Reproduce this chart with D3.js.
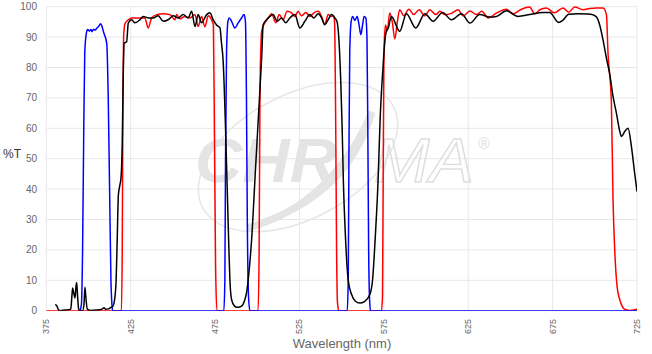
<!DOCTYPE html>
<html>
<head>
<meta charset="utf-8">
<script src="https://cdn.jsdelivr.net/npm/d3@7"></script>
<style>
body { margin: 0; background: #fff; }
svg { display: block; font-family: "Liberation Sans", Arial, sans-serif; }
</style>
</head>
<body>
<script>
// tick values
var xTicks = [375, 425, 475, 525, 575, 625, 675, 725];
var yTicks = [0, 10, 20, 30, 40, 50, 60, 70, 80, 90, 100];

// blue (excitation)
var blueNm = [395, 395.8, 396.5, 397.2, 397.8, 398.8, 399.5, 400.5, 401.5, 402, 403, 404, 405, 406, 407.2, 408, 409, 410.8, 411.7, 412.5, 413.3, 413.9, 414.3,
  450, 480.2, 480.8, 481.2, 481.8, 482.6, 483.4, 484.8, 486.7, 488.7, 490.7, 492.2, 493, 493.6, 494.1, 494.8, 495.6,
  530, 553.3, 553.9, 554.3, 554.8, 555.6, 556.5, 557.8, 559.2, 560.3, 561.4, 562.4, 563.3, 564.3, 565, 565.5, 566, 566.6, 567.1, 650, 725];
var blueT = [0, 2, 20, 60, 85, 91.5, 92.5, 92, 92.5, 91.8, 92.6, 92.3, 93, 93.5, 94.4, 93.5, 91.5, 88, 70, 40, 10, 2, 0,
  0, 0, 10, 50, 85, 95, 96.3, 95.2, 93, 94.7, 96.3, 97.4, 95, 70, 30, 5, 0,
  0, 0, 10, 50, 85, 95, 96.8, 95.5, 96.8, 94, 90.8, 94, 96.8, 96.3, 90, 60, 20, 3, 0, 0, 0];

// red (dichroic)
var redNm = [375, 400, 419.5, 420, 420.4, 420.8, 421.6, 423.6, 425.6, 430.5, 433.4, 435.4, 437.4, 440.4, 444.3, 448.3, 451.2, 452.2, 454.2, 457.1, 460.1, 463.1, 465, 467, 469, 470.9, 472.9, 474, 474.6, 475.3, 476.1,
  488, 500.5, 501.1, 501.6, 502.2, 502.6, 504.5, 506.5, 508.5, 511, 513, 515.3, 517.7, 520.3, 522.3, 524.2, 526.2, 528.8, 531.2, 533.5, 536.1, 538.1, 540, 542, 544, 545.2, 545.8, 546.5, 547, 547.5, 548.3,
  560, 573.6, 574.2, 574.6, 575, 575.4, 576, 577, 578.5, 580, 581.5, 583, 584.4, 586.8, 589.8, 592.7, 595.9, 599.3, 602.2, 605.8, 608.2, 611.1, 615, 619, 622, 626, 629.9, 633, 636.8, 641.7, 647.6, 651.5, 656, 661.4, 664.4, 667.5, 671.3, 676, 681.2, 684.5, 688.1, 693.1, 697, 701, 704.9, 706.9, 707.8, 709.8, 710.8, 711.8, 713.2, 714.8, 716.8, 718.5, 720.8, 723.7, 725];
var redT = [0, 0, 0, 20, 70, 90, 94.4, 95.7, 96.3, 96.3, 96.3, 93, 96.3, 97.4, 97.7, 97.4, 95.7, 97.4, 96, 96.8, 96.3, 97.4, 93.5, 96.8, 93.4, 97, 95.7, 94, 60, 15, 0,
  0, 0, 20, 70, 88, 92, 94.7, 96.3, 97.7, 94.7, 97.4, 95.7, 98.5, 98, 96.8, 98.5, 97, 98.1, 96.8, 98, 98.5, 96.8, 94.1, 97.4, 96.8, 97, 95, 60, 20, 3, 0,
  0, 0, 5, 43, 80, 90, 94, 92, 97.9, 95, 89.4, 95, 99, 97, 99.2, 97.4, 99, 97, 99, 97.4, 98.5, 97.4, 97.8, 99, 97, 98.6, 97.4, 98.5, 96.3, 97.9, 99.2, 97.7, 99, 99.9, 97.7, 99, 99.6, 98, 99.6, 98.2, 99.9, 99, 99.4, 99.6, 99.6, 97.4, 85, 69, 36.5, 20, 8, 3.6, 0.9, 0.3, 0.1, 0.3, 0.5];

// black (emission)
var blackNm = [380.2, 381, 382, 383, 386, 388, 389.5, 390.2, 390.6, 391.2, 392, 392.6, 393, 393.5, 394.2, 395, 396.5, 397.3, 397.9, 398.5, 399.3, 401, 405, 408, 409.2, 410, 412, 413, 414.5, 415.7, 416.3, 417, 417.7, 418.5, 419.3, 420, 420.6, 421.1, 422.6, 423.6, 425.6, 427.5, 430.5, 432.4, 435.4, 438.4, 441.3, 444.3, 447.2, 450.2, 453.2, 456.1, 459.1, 461.1, 463.1, 465, 467, 470, 471.9, 473.9, 475.9, 477.9,
  478.8, 479.8, 481.2, 482.2, 483.2, 483.8, 484.8, 486.5, 488, 490, 491.5, 492.6, 493.7, 494.6, 496.6, 499, 501.4, 502.6, 503.5, 505.5, 507.5, 509.4, 511.8, 514.4, 516.9, 519.3, 522.3, 525.2, 528.2, 531.2, 533.5, 536.1, 538.1, 540, 542, 544, 546, 547.3,
  548.5, 549.5, 550.3, 551, 552.2, 553.9, 555.9, 558, 560.8, 563.5, 566.7, 568.3, 570, 571.6, 572.8, 574.5, 575.5, 576.5, 577.6, 579.5, 584.4, 588.4, 593.9, 599.3, 604.2, 609.8, 615.1, 621, 626, 631.8, 637.7, 641.7, 647.6, 654.5, 661.4, 669.3, 673.3, 678.5, 681, 684.5, 690, 696, 699, 701, 702.9, 704.9, 706.9, 708.9, 710.8, 712.8, 714.8, 715.8, 717.8, 719.7, 721.7, 723.6, 725];
var blackT = [2, 1.8, 0.5, 0, 0.2, 0.3, 0.5, 5, 7.5, 6, 4.2, 8, 9.3, 5, 0.5, 0, 0, 2, 7.7, 4, 0.5, 0.1, 0.2, 0.5, 1, 0.5, 0.6, 1, 1.5, 4.7, 9, 23, 38, 41, 44, 55, 78, 88, 88.5, 94.7, 95.7, 94.7, 95.7, 96.8, 96.3, 96.3, 97, 95.2, 95.7, 97, 96.3, 97.4, 96.3, 98.5, 93.5, 97.4, 94.7, 97.4, 98, 95.7, 94, 93,
  88, 82, 60, 40, 20, 10, 3.6, 1.5, 1.1, 1.3, 2, 3.6, 6, 10, 23, 47, 71, 83, 94.1, 95.7, 96.8, 97.4, 95.2, 96.3, 94.7, 96.3, 97.4, 93, 95.2, 97.4, 96.3, 97.7, 96.3, 94.1, 95.7, 97.4, 96.3, 95,
  88, 75, 60, 43, 25, 10, 5.3, 3.2, 2.5, 3, 5.3, 10, 25, 43, 63, 80, 88, 92, 93, 96.8, 91.9, 97.7, 93, 97.7, 95.2, 98.1, 95.7, 97.7, 94.6, 97.4, 96.6, 96.8, 98.7, 96.8, 97.4, 98.1, 98.1, 94.8, 95.5, 97.5, 97.7, 97.6, 97.3, 96.6, 94, 89, 83, 77.6, 70.5, 65, 59, 57.3, 59, 60, 54, 45.3, 39.2];

var W = 652, H = 354;
var margin = {left: 46.3, right: 15, top: 6.7, bottom: 43.3};

var svg = d3.select("body").append("svg")
  .attr("width", W)
  .attr("height", H);

var x = d3.scaleLinear().domain([375, 725]).range([margin.left, W - margin.right]);
var y = d3.scaleLinear().domain([0, 100]).range([H - margin.bottom, margin.top]);

// grid
svg.append("g").selectAll("line").data(yTicks).enter().append("line")
  .attr("x1", x(375)).attr("x2", x(725))
  .attr("y1", function(d){ return y(d); }).attr("y2", function(d){ return y(d); })
  .attr("stroke", "#e8e8e8").attr("stroke-width", 1);
svg.append("g").selectAll("line").data(xTicks).enter().append("line")
  .attr("y1", y(0)).attr("y2", y(100))
  .attr("x1", function(d){ return x(d); }).attr("x2", function(d){ return x(d); })
  .attr("stroke", "#e8e8e8").attr("stroke-width", 1);

// watermark
var wm = svg.append("g").attr("pointer-events", "none");
wm.append("ellipse")
  .attr("cx", 0).attr("cy", 0).attr("rx", 108).attr("ry", 62)
  .attr("transform", "translate(298,157) rotate(-28)")
  .attr("fill", "none").attr("stroke", "#e6e6e6").attr("stroke-width", 1.5);
wm.append("path")
  .attr("d", "M247,228 C300,215 345,175 372,112 C356,165 322,205 247,228 Z")
  .attr("fill", "#e4e4e4").attr("stroke", "#e4e4e4").attr("stroke-width", 7);
wm.append("text")
  .attr("x", 195).attr("y", 182)
  .attr("font-size", 63).attr("font-weight", "bold").attr("font-style", "italic")
  .attr("textLength", 142).attr("lengthAdjust", "spacingAndGlyphs")
  .attr("fill", "#e4e4e4")
  .text("CHR");
wm.append("text")
  .attr("x", 374).attr("y", 182)
  .attr("font-size", 63).attr("font-style", "italic")
  .attr("textLength", 100).attr("lengthAdjust", "spacingAndGlyphs")
  .attr("fill", "none").attr("stroke", "#dedede").attr("stroke-width", 1.4)
  .text("MA");
wm.append("text")
  .attr("x", 478).attr("y", 149)
  .attr("font-size", 16)
  .attr("fill", "#e2e2e2")
  .text("®");

// clip
svg.append("clipPath").attr("id", "plot")
  .append("rect")
  .attr("x", x(375)).attr("y", y(100) - 2)
  .attr("width", x(725) - x(375)).attr("height", y(0) - y(100) + 2);

var line = d3.line()
  .x(function(d){ return x(d[0]); })
  .y(function(d){ return y(d[1]); })
  .curve(d3.curveMonotoneX);

var series = [
  {nm: redNm, t: redT, color: "#ff0000"},
  {nm: blueNm, t: blueT, color: "#0000ff"},
  {nm: blackNm, t: blackT, color: "#000000"}
];

var lines = svg.append("g").attr("clip-path", "url(#plot)");
series.forEach(function(s){
  lines.append("path")
    .datum(d3.zip(s.nm, s.t))
    .attr("d", line)
    .attr("fill", "none")
    .attr("stroke", s.color)
    .attr("stroke-width", 1.5)
    .attr("stroke-linejoin", "round");
});

// y labels
svg.append("g").selectAll("text").data(yTicks).enter().append("text")
  .attr("x", 37)
  .attr("y", function(d){ return y(d) + 3.5; })
  .attr("text-anchor", "end")
  .attr("font-size", 10)
  .attr("fill", "#666")
  .text(function(d){ return d; });

// x labels (rotated)
svg.append("g").selectAll("text").data(xTicks).enter().append("text")
  .attr("transform", function(d){ return "translate(" + (x(d) + 3) + "," + 319 + ") rotate(-90)"; })
  .attr("text-anchor", "end")
  .attr("font-size", 9)
  .attr("fill", "#666")
  .text(function(d){ return d; });

// axis titles
svg.append("text")
  .attr("x", 12).attr("y", 158)
  .attr("text-anchor", "middle")
  .attr("font-size", 12)
  .attr("fill", "#333")
  .text("%T");
svg.append("text")
  .attr("x", 342).attr("y", 348)
  .attr("text-anchor", "middle")
  .attr("font-size", 13)
  .attr("fill", "#666")
  .text("Wavelength (nm)");
</script>
</body>
</html>
